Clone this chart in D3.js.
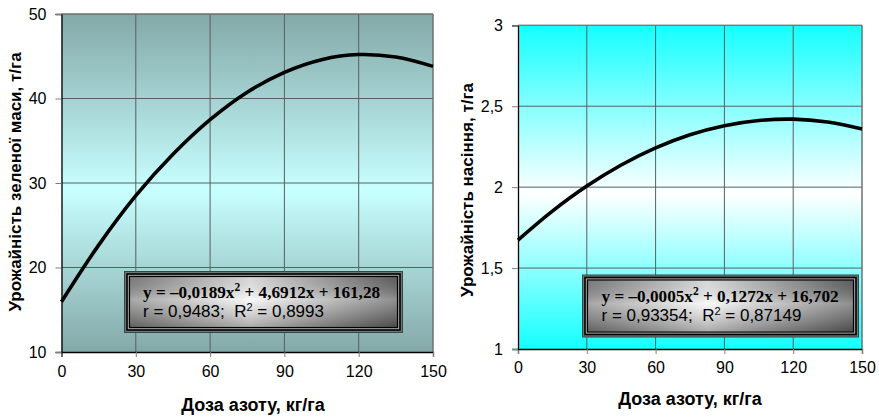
<!DOCTYPE html>
<html><head><meta charset="utf-8">
<script src="https://cdn.jsdelivr.net/npm/d3@7"></script>
<style>body{margin:0;background:#fff}svg{display:block}text{white-space:pre}</style>
</head><body>
<svg id="c" width="879" height="418"></svg>
<script>
// Data
const doses = [0, 15, 30, 45, 60, 75, 90, 105, 120, 135, 150];
const greenMass = [15.95, 22.65, 28.5, 33.4, 37.5, 40.75, 43.1, 44.6, 45.2, 44.9, 43.8];
const seedYield = [1.673, 1.852, 2.007, 2.137, 2.243, 2.324, 2.38, 2.412, 2.42, 2.402, 2.36];
const xTicks = [0, 30, 60, 90, 120, 150];
const yTicksLeft = [10, 20, 30, 40, 50];
const yTicksRight = [1, 1.5, 2, 2.5, 3];
const xTitle = "Доза азоту, кг/га";
const yTitleLeft = "Урожайність зеленої маси, т/га";
const yTitleRight = "Урожайність насіння, т/га";
const eqLeft = {a: "y = –0,0189x", b: " + 4,6912x + 161,28", r: "r = 0,9483;  R", r2: " = 0,8993"};
const eqRight = {a: "y = –0,0005x", b: " + 0,1272x + 16,702", r: "r = 0,93354;  R", r2: " = 0,87149"};

const SANS = "'Liberation Sans', Arial, sans-serif";
const SERIF = "'Liberation Serif', 'Times New Roman', serif";
const svg = d3.select("#c");
const defs = svg.append("defs");
function vgrad(id, edge, mid){
  const g = defs.append("linearGradient").attr("id", id).attr("x1",0).attr("y1",0).attr("x2",0).attr("y2",1);
  g.append("stop").attr("offset","0%").attr("stop-color",edge);
  g.append("stop").attr("offset","52%").attr("stop-color",mid);
  g.append("stop").attr("offset","100%").attr("stop-color",edge);
}
vgrad("bgL", "#84a8a8", "#c8ffff");
vgrad("bgR", "#14ffff", "#ffffff");
const bh = defs.append("linearGradient").attr("id","boxH").attr("x1",0).attr("y1",0).attr("x2",1).attr("y2",0);
bh.append("stop").attr("offset","0%").attr("stop-color","#8a8a8a");
bh.append("stop").attr("offset","45%").attr("stop-color","#f6f6f6");
bh.append("stop").attr("offset","100%").attr("stop-color","#6a6a6a");
const bv = defs.append("linearGradient").attr("id","boxV").attr("x1",0).attr("y1",0).attr("x2",0).attr("y2",1);
bv.append("stop").attr("offset","0%").attr("stop-color","#000").attr("stop-opacity",0.12);
bv.append("stop").attr("offset","45%").attr("stop-color","#fff").attr("stop-opacity",0.25);
bv.append("stop").attr("offset","100%").attr("stop-color","#000").attr("stop-opacity",0.3);

function chart(o){
  const x = d3.scaleLinear().domain([0,150]).range([o.x0, o.x1]);
  const y = d3.scaleLinear().domain(o.yd).range([o.y1, o.y0]);
  const g = svg.append("g");
  g.append("rect").attr("x",o.x0).attr("y",o.y0).attr("width",o.x1-o.x0).attr("height",o.y1-o.y0)
    .attr("fill",`url(#${o.bg})`);
  // grid
  g.append("g").selectAll("line").data(xTicks.slice(1)).join("line")
    .attr("x1",d=>x(d)).attr("x2",d=>x(d)).attr("y1",o.y0).attr("y2",o.y1)
    .attr("stroke","#56605f").attr("stroke-width",1);
  g.append("g").selectAll("line").data(o.yt.slice(1)).join("line")
    .attr("x1",o.x0).attr("x2",o.x1).attr("y1",d=>y(d)).attr("y2",d=>y(d))
    .attr("stroke","#56605f").attr("stroke-width",1);
  // axes
  const ax = g.append("g").attr("transform",`translate(0,${o.y1})`)
    .call(d3.axisBottom(x).tickValues(xTicks).tickSize(5).tickPadding(o.xpad).tickFormat(d3.format("d")));
  const ay = g.append("g").attr("transform",`translate(${o.x0},0)`)
    .call(d3.axisLeft(y).tickValues(o.yt).tickSize(6).tickPadding(9).tickFormat(d=>String(d).replace(".",",")));
  [ax, ay].forEach(a=>{
    a.select(".domain").attr("stroke","#000").attr("stroke-width",1.3);
    a.selectAll(".tick line").attr("stroke","#808080");
    a.selectAll("text").attr("font-family",SANS).attr("font-size",16).attr("fill","#000");
  });
  // top/right border
  g.append("path").attr("d",`M${o.x0},${o.y0}H${o.x1}V${o.y1}`).attr("fill","none").attr("stroke","#7a7a7a");
  // curve
  const line = d3.line().x((d,i)=>x(doses[i])).y(d=>y(d)).curve(d3.curveCatmullRom.alpha(0.5));
  g.append("path").datum(o.data).attr("d",line).attr("fill","none").attr("stroke","#000").attr("stroke-width",3.6);
  // titles
  g.append("text").attr("x",o.xtX).attr("y",o.xtY).attr("text-anchor","middle")
    .attr("font-family",SANS).attr("font-weight","bold").attr("font-size",18).text(xTitle);
  g.append("text").attr("transform",`translate(${o.ytX},${o.ytY}) rotate(-90)`).attr("text-anchor","middle")
    .attr("font-family",SANS).attr("font-weight","bold").attr("font-size",17).text(o.ytitle);
  // equation box
  const b = o.box;
  g.append("rect").attr("x",b.x).attr("y",b.y).attr("width",b.w).attr("height",b.h).attr("fill","#6c7878").attr("stroke","#3c4444");
  g.append("rect").attr("x",b.x+2.5).attr("y",b.y+2.5).attr("width",b.w-5).attr("height",b.h-5).attr("fill","#a0a0a0").attr("stroke","#000").attr("stroke-width",1.6);
  g.append("rect").attr("x",b.x+5).attr("y",b.y+5).attr("width",b.w-10).attr("height",b.h-10).attr("fill","url(#boxH)").attr("stroke","#000").attr("stroke-width",1.2);
  g.append("rect").attr("x",b.x+5.6).attr("y",b.y+5.6).attr("width",b.w-11.2).attr("height",b.h-11.2).attr("fill","url(#boxV)");
  const t1 = g.append("text").attr("x",b.tx).attr("y",b.y+b.l1).attr("font-family",SERIF).attr("font-weight","bold").attr("font-size",17.2);
  t1.append("tspan").text(o.eq.a);
  t1.append("tspan").attr("dy",-7).attr("font-size",11.5).text("2");
  t1.append("tspan").attr("dy",7).text(o.eq.b);
  const t2 = g.append("text").attr("x",b.tx).attr("y",b.y+b.l2).attr("font-family",SANS).attr("font-size",17);
  t2.append("tspan").text(o.eq.r);
  t2.append("tspan").attr("dy",-6).attr("font-size",11).text("2");
  t2.append("tspan").attr("dy",6).text(o.eq.r2);
}

chart({x0:61.5, x1:433, y0:14, y1:352, yd:[10,50], yt:yTicksLeft, data:greenMass, bg:"bgL", xpad:9,
  xtX:253, xtY:411, ytX:21, ytY:182, ytitle:yTitleLeft, eq:eqLeft,
  box:{x:124.5, y:271.5, w:278, h:61, tx:143, l1:26, l2:45}});
chart({x0:518, x1:862, y0:25.3, y1:349, yd:[1,3], yt:yTicksRight, data:seedYield, bg:"bgR", xpad:8,
  xtX:690, xtY:405, ytX:473, ytY:190, ytitle:yTitleRight, eq:eqRight,
  box:{x:582.5, y:275, w:276, h:62, tx:601.5, l1:27, l2:46}});
</script>
</body></html>
